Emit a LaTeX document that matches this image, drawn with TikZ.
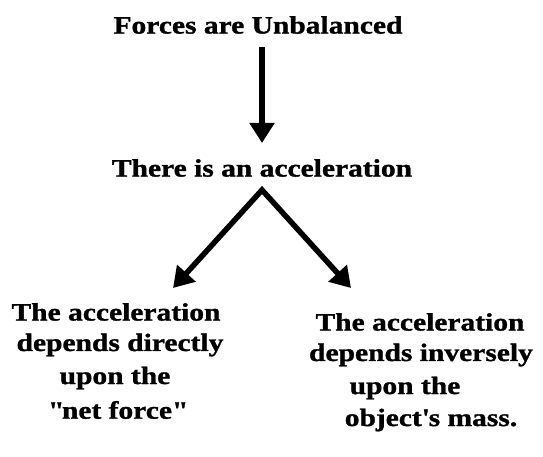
\documentclass[tikz,border=0pt]{standalone}
\usepackage{fontspec}
\setmainfont{Liberation Serif}[FakeStretch=1.18, BoldFeatures={FakeBold=1.2}]
\usetikzlibrary{arrows.meta}
\begin{document}
\begin{tikzpicture}[x=1pt,y=-1pt,
  lbl/.style={font=\bfseries\fontsize{25}{28}\selectfont, inner sep=0pt, anchor=center},
  arr/.style={line width=5.5pt, -{Triangle[length=20pt,width=24pt]}},
  arr2/.style={line width=5.5pt, line join=miter, {Triangle[length=20pt,width=24pt]}-{Triangle[length=20pt,width=24pt]}}]
\useasboundingbox[fill=white] (0,0) rectangle (543,457);
\node[lbl] (t) at (258,25) {Forces are Unbalanced};
\node[lbl] (m) at (262,168) {There is an acceleration};
\node[lbl] (l1) at (116,312) {The acceleration};
\node[lbl] (l2) at (120,345) {depends directly};
\node[lbl] (l3) at (115,378) {upon the};
\node[lbl] (l4) at (117,410) {\textquotedbl net force\textquotedbl};
\node[lbl] (r1) at (420,322) {The acceleration};
\node[lbl] (r2) at (421,355) {depends inversely};
\node[lbl] (r3) at (405,388) {upon the};
\node[lbl] (r4) at (431,420) {object\textquotesingle s mass.};
\coordinate (s) at (262,47);
\coordinate (e) at (262,143);
\coordinate (top) at (262,190);
\coordinate (la) at (173,288);
\coordinate (ra) at (351,288);
\draw[arr] (s) -- (e);
\draw[arr2] (la) -- (top) -- (ra);
\end{tikzpicture}
\end{document}
